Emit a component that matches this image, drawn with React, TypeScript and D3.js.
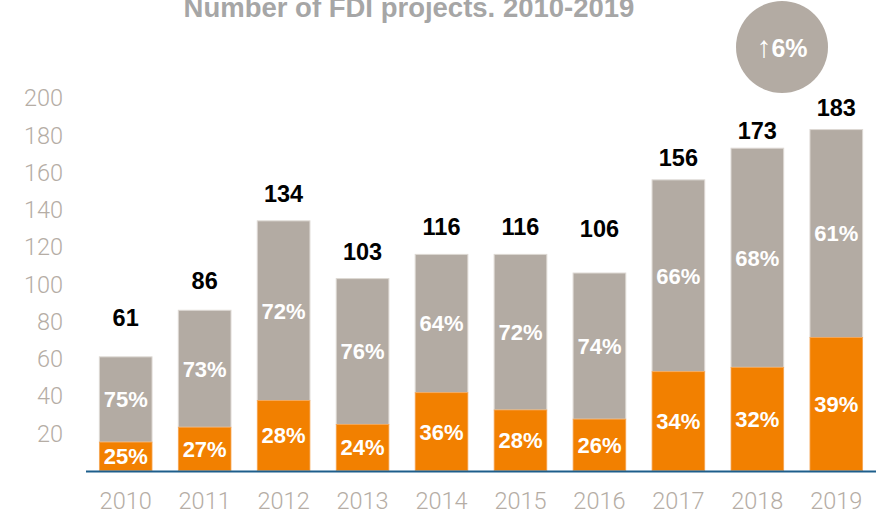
import React from "react";
import * as d3 from "d3";

const years = ["2010", "2011", "2012", "2013", "2014", "2015", "2016", "2017", "2018", "2019"];
const totals = [61, 86, 134, 103, 116, 116, 106, 156, 173, 183];
const orangePct = [25, 27, 28, 24, 36, 28, 26, 34, 32, 39];
const grayPct = [75, 73, 72, 76, 64, 72, 74, 66, 68, 61];
const yTicks = [20, 40, 60, 80, 100, 120, 140, 160, 180, 200];
const title = "Number of FDI projects. 2010-2019";
const growthLabel = "6%";

// layout: extra pixel gap between bar top and total label
const labelGap = [31, 21, 19, 19, 19, 19, 36, 14, 9, 14];

const W = 876;
const H = 514;
const GRAY = "#b3aba3";
const ORANGE = "#f28000";
const BLUE = "#1d5e8c";
const AXIS_TXT = "#b5ada5";

export default function App() {
  const x = d3.scaleBand<string>().domain(years).range([86.2, 875.8]).paddingInner(0.333).paddingOuter(0.1667);
  const y = d3.scaleLinear().domain([0, 200]).range([470.5, 97.9]);
  const bw = x.bandwidth();
  const boldFont = "'Liberation Sans', Arial, Helvetica, sans-serif";
  const lightFont = "Roboto, 'Liberation Sans', sans-serif";

  return (
    <svg width={W} height={H} style={{ position: "absolute", left: 0, top: 0, display: "block" }}>
      <rect width={W} height={H} fill="#fff" />
      <text x={409} y={17} textAnchor="middle" fontFamily={boldFont} fontWeight={700} fontSize={27.5} fill="#a6a6a6">
        {title}
      </text>
      <circle cx={782} cy={47} r={46} fill={GRAY} />
      <text x={782} y={57} textAnchor="middle" fill="#fff" fontFamily={boldFont}>
        <tspan fontFamily={lightFont} fontWeight={300} fontSize={30}>↑</tspan>
        <tspan fontWeight={700} fontSize={25}>{growthLabel}</tspan>
      </text>
      {yTicks.map((t) => (
        <text key={t} x={63} y={y(t)} dy="0.36em" textAnchor="end" fontFamily={lightFont} fontWeight={300} fontSize={23.5} fill={AXIS_TXT}>
          {t}
        </text>
      ))}
      {years.map((yr, i) => {
        const total = totals[i];
        const orangeVal = (total * orangePct[i]) / 100;
        const x0 = x(yr)!;
        const cx = x0 + bw / 2;
        const yTop = y(total);
        const yMid = y(orangeVal);
        const yBase = y(0);
        return (
          <g key={yr}>
            <rect x={x0} y={yTop} width={bw} height={yMid - yTop} fill={GRAY} stroke="#ddd8d3" strokeWidth={1} />
            <rect x={x0} y={yMid} width={bw} height={yBase - yMid} fill={ORANGE} stroke="#f6a655" strokeWidth={0.8} />
            <text x={cx} y={(yTop + yMid) / 2} dy="0.36em" textAnchor="middle" fontFamily={boldFont} fontWeight={700} fontSize={22} fill="#fff">
              {grayPct[i]}%
            </text>
            <text x={cx} y={(yMid + yBase) / 2} dy="0.36em" textAnchor="middle" fontFamily={boldFont} fontWeight={700} fontSize={22} fill="#fff">
              {orangePct[i]}%
            </text>
            <text x={cx} y={yTop - labelGap[i]} textAnchor="middle" fontFamily={boldFont} fontWeight={700} fontSize={23.5} fill="#000">
              {total}
            </text>
            <text x={cx} y={501} dy="0.36em" textAnchor="middle" fontFamily={lightFont} fontWeight={300} fontSize={23.5} fill={AXIS_TXT}>
              {yr}
            </text>
          </g>
        );
      })}
      <line x1={86} x2={876} y1={471.5} y2={471.5} stroke={BLUE} strokeWidth={2} />
    </svg>
  );
}
